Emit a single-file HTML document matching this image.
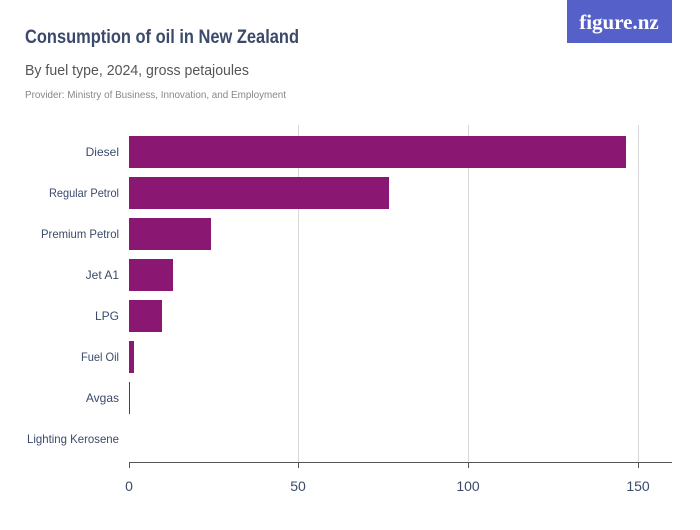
<!DOCTYPE html>
<html><head><meta charset="utf-8"><style>
body{margin:0;width:700px;height:525px;background:#fff;overflow:hidden;font-family:"Liberation Sans",sans-serif;}
</style></head><body>
<svg width="700" height="525" xmlns="http://www.w3.org/2000/svg" font-family="Liberation Sans, sans-serif">
<rect x="567" y="0" width="105" height="43" fill="#5561c8"/>
<text x="619" y="29" fill="#fff" font-family="Liberation Serif, serif" font-size="21" font-weight="bold" text-anchor="middle">figure.nz</text>
<text x="25" y="43" fill="#3b4a6b" font-size="19" font-weight="bold" textLength="274" lengthAdjust="spacingAndGlyphs">Consumption of oil in New Zealand</text>
<text x="25" y="75" fill="#555" font-size="15" textLength="224" lengthAdjust="spacingAndGlyphs">By fuel type, 2024, gross petajoules</text>
<text x="25" y="98" fill="#888" font-size="10.5" textLength="261" lengthAdjust="spacingAndGlyphs">Provider: Ministry of Business, Innovation, and Employment</text>
<g stroke="#d8d8d8" stroke-width="1">
<line x1="298.5" y1="125" x2="298.5" y2="462"/>
<line x1="468.5" y1="125" x2="468.5" y2="462"/>
<line x1="638.5" y1="125" x2="638.5" y2="462"/>
</g>
<g fill="#8a1771">
<rect x="129" y="136" width="497" height="32"/>
<rect x="129" y="177" width="260" height="32"/>
<rect x="129" y="218" width="82" height="32"/>
<rect x="129" y="259" width="44" height="32"/>
<rect x="129" y="300" width="33" height="32"/>
<rect x="129" y="341" width="5" height="32"/>
<rect x="129" y="382" width="1" height="32"/>
</g>
<g fill="#3b4a6b" font-size="12" text-anchor="end">
<text x="119" y="156">Diesel</text>
<text x="119" y="197" textLength="70" lengthAdjust="spacingAndGlyphs">Regular Petrol</text>
<text x="119" y="238" textLength="78" lengthAdjust="spacingAndGlyphs">Premium Petrol</text>
<text x="119" y="279">Jet A1</text>
<text x="119" y="320">LPG</text>
<text x="119" y="361" textLength="38" lengthAdjust="spacingAndGlyphs">Fuel Oil</text>
<text x="119" y="402">Avgas</text>
<text x="119" y="443" textLength="92" lengthAdjust="spacingAndGlyphs">Lighting Kerosene</text>
</g>
<g stroke="#555" stroke-width="1">
<line x1="129" y1="462.5" x2="672" y2="462.5"/>
<line x1="129.5" y1="462" x2="129.5" y2="468"/>
<line x1="298.5" y1="462" x2="298.5" y2="468"/>
<line x1="468.5" y1="462" x2="468.5" y2="468"/>
<line x1="638.5" y1="462" x2="638.5" y2="468"/>
</g>
<g fill="#3b4a6b" font-size="14" text-anchor="middle">
<text x="129" y="491">0</text>
<text x="298" y="491">50</text>
<text x="468" y="491">100</text>
<text x="638" y="491">150</text>
</g>
</svg>
</body></html>
